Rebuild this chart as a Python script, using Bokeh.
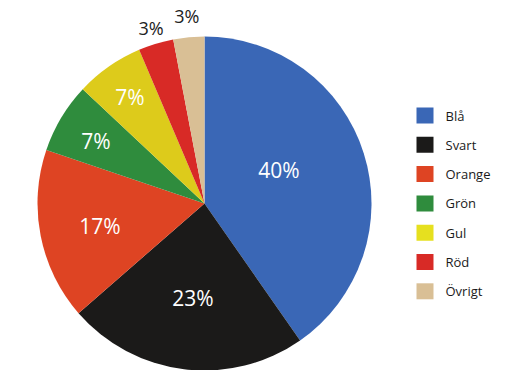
import math
from bokeh.plotting import figure
from bokeh.models import ColumnDataSource
from bokeh.core.properties import value
from bokeh.embed import file_html
from bokeh.resources import INLINE

categories = ["Blå", "Svart", "Orange", "Grön", "Gul", "Röd", "Övrigt"]
shares = [40.3, 23.3, 16.6, 6.8, 6.6, 3.4, 3.0]
colors = ["#3a67b6", "#1b1a19", "#de4423", "#2f8c3d", "#ddcb1b", "#d82a26", "#d9bf95"]
legend_colors = ["#3a67b6", "#1b1a19", "#de4423", "#2f8c3d", "#e6e01f", "#d82a26", "#d9bf95"]

W, H = 497, 370
CX, CY, R = 204, 167, 167
# label placement (styling): radius fraction, angular nudge (deg, ccw), colour, size
label_r = [0.49, 0.57, 0.64, 0.75, 0.78, 1.10, 1.13]
label_da = [7, 0, 1, 1, 0, 0, 0]
label_color = ["white", "white", "white", "white", "white", "#222222", "#222222"]
label_size = ["21px", "21px", "21px", "21px", "21px", "18px", "18px"]

total = sum(shares)
starts, ends, lx, ly, labels = [], [], [], [], []
cum = 0.0
for i, s in enumerate(shares):
    a0 = math.pi / 2 - 2 * math.pi * cum / total
    cum += s
    a1 = math.pi / 2 - 2 * math.pi * cum / total
    starts.append(a0)
    ends.append(a1)
    mid = (a0 + a1) / 2 + math.radians(label_da[i])
    lx.append(CX + label_r[i] * R * math.cos(mid))
    ly.append(CY + label_r[i] * R * math.sin(mid))
    labels.append(f"{round(s)}%")

src = ColumnDataSource(dict(start=starts, end=ends, color=colors, lx=lx, ly=ly,
                            label=labels, lcol=label_color, lsize=label_size))

p = figure(width=W, height=H, x_range=(0, W), y_range=(0, H),
           output_backend="svg", toolbar_location=None, min_border=0)
p.axis.visible = False
p.grid.visible = False
p.outline_line_color = None

p.wedge(x=CX, y=CY, radius=R, start_angle="start", end_angle="end",
        direction="clock", fill_color="color", line_color=None, source=src)

p.text(x="lx", y="ly", text="label", text_color="lcol", text_font_size="lsize",
       text_font=value("Open Sans"), text_align="center", text_baseline="middle",
       source=src)

# legend
ly0 = 255
step = 29.3
leg_y = [ly0 - i * step for i in range(len(categories))]
leg = ColumnDataSource(dict(y=leg_y, color=legend_colors, name=categories))
p.rect(x=424.5, y="y", width=17, height=16, fill_color="color", line_color=None, source=leg)
p.text(x=445, y="y", text="name", text_font=value("Open Sans"), text_font_size="13px",
       text_color="#1a1a1a", text_baseline="middle", source=leg)

open("out.html", "w").write(file_html(p, INLINE))
